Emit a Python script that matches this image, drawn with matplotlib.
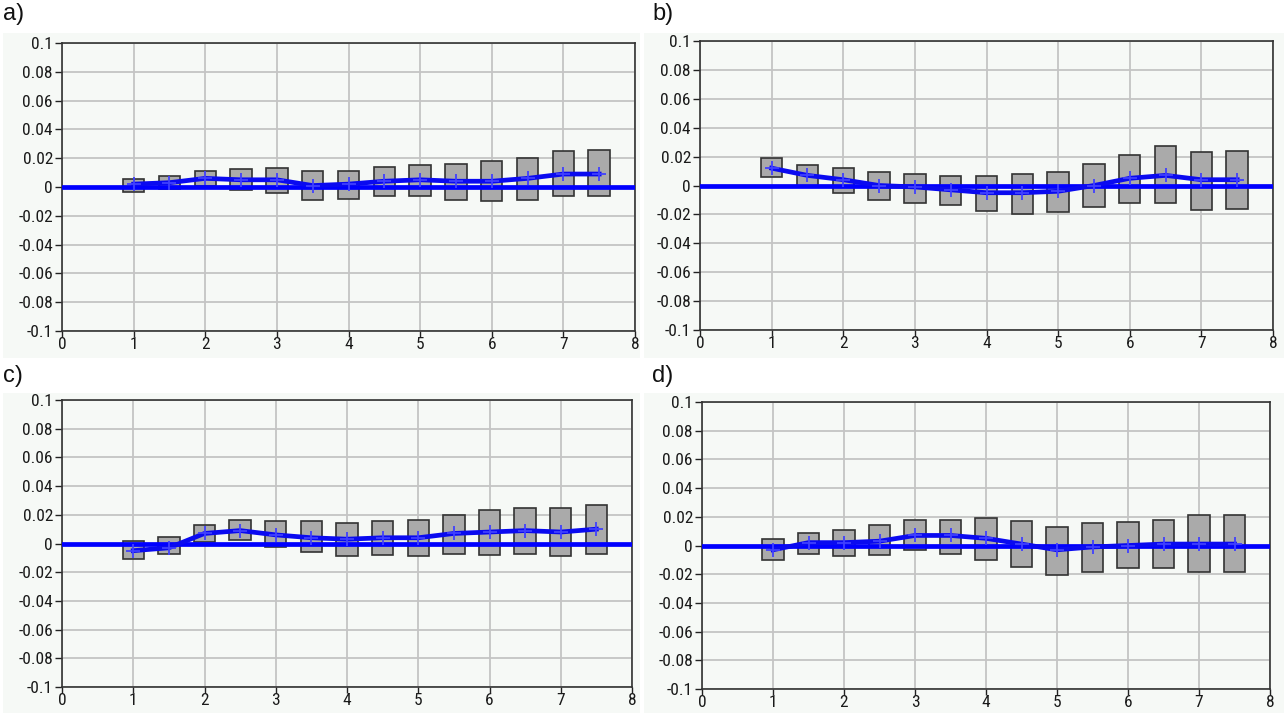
import matplotlib.pyplot as plt
from matplotlib.patches import Rectangle
from matplotlib.ticker import FixedLocator, FixedFormatter
from matplotlib import font_manager

# Lag positions shared by all four panels
lags = [1, 1.5, 2, 2.5, 3, 3.5, 4, 4.5, 5, 5.5, 6, 6.5, 7, 7.5]

# Panel a)
a_upper = [0.0054, 0.0075, 0.0113, 0.0122, 0.0132, 0.011, 0.011, 0.014, 0.015, 0.016, 0.018, 0.020, 0.0247, 0.0254]
a_lower = [-0.0033, -0.0012, 0.0007, -0.0024, -0.0042, -0.009, -0.008, -0.006, -0.006, -0.009, -0.010, -0.009, -0.006, -0.006]
a_mean = [0.002, 0.003, 0.006, 0.005, 0.005, 0.001, 0.002, 0.004, 0.005, 0.004, 0.004, 0.006, 0.009, 0.009]

# Panel b)
b_upper = [0.019, 0.014, 0.012, 0.009, 0.008, 0.0064, 0.0064, 0.008, 0.009, 0.015, 0.021, 0.027, 0.023, 0.024]
b_lower = [0.0056, 0.0, -0.005, -0.010, -0.012, -0.0136, -0.0176, -0.0195, -0.0186, -0.0146, -0.012, -0.012, -0.0167, -0.016]
b_mean = [0.012, 0.007, 0.004, 0.0, -0.001, -0.003, -0.005, -0.005, -0.004, 0.0, 0.005, 0.007, 0.004, 0.004]

# Panel c)
c_upper = [0.0016, 0.0044, 0.013, 0.0165, 0.0156, 0.0156, 0.014, 0.0156, 0.0165, 0.020, 0.023, 0.025, 0.025, 0.027]
c_lower = [-0.011, -0.007, 0.001, 0.0023, -0.0023, -0.006, -0.009, -0.008, -0.009, -0.007, -0.008, -0.007, -0.009, -0.007]
c_mean = [-0.005, -0.003, 0.007, 0.009, 0.006, 0.004, 0.003, 0.004, 0.004, 0.007, 0.008, 0.009, 0.008, 0.010]

# Panel d)
d_upper = [0.0045, 0.009, 0.011, 0.014, 0.018, 0.018, 0.019, 0.017, 0.013, 0.0155, 0.0164, 0.018, 0.021, 0.021]
d_lower = [-0.0103, -0.0056, -0.0076, -0.0067, -0.003, -0.0056, -0.0103, -0.015, -0.0207, -0.0187, -0.016, -0.016, -0.0187, -0.0187]
d_mean = [-0.003, 0.002, 0.002, 0.003, 0.007, 0.007, 0.005, 0.001, -0.003, -0.001, 0.0, 0.001, 0.001, 0.001]

panel_labels = ["a)", "b)", "c)", "d)"]
y_ticks = [0.1, 0.08, 0.06, 0.04, 0.02, 0, -0.02, -0.04, -0.06, -0.08, -0.1]
y_tick_labels = ["0.1", "0.08", "0.06", "0.04", "0.02", "0", "-0.02", "-0.04", "-0.06", "-0.08", "-0.1"]
x_ticks = [0, 1, 2, 3, 4, 5, 6, 7, 8]

W, H = 1284, 714
fig = plt.figure(figsize=(W / 100, H / 100), dpi=100)
fig.patch.set_facecolor("white")

bg = "#f6f9f6"

# narrow face for the tick numbers, if one is around
installed = {f.name for f in font_manager.fontManager.ttflist}
narrow = [n for n in ["Liberation Sans Narrow", "Roboto Condensed", "Open Sans Condensed"] if n in installed]
tick_fp = font_manager.FontProperties(family=narrow + ["DejaVu Sans"], stretch="condensed", size=12.5)

# (left, top, right, bottom) of each plot area in pixels
boxes_px = [(62, 43, 635, 331), (700, 41, 1273, 330), (62, 400, 632, 687), (702, 402, 1270, 689)]
# light backdrop behind each panel
bg_px = [(3, 33, 640, 358), (644, 33, 1284, 358), (3, 393, 640, 713), (644, 393, 1284, 713)]
label_px = [(3, 3), (652, 3), (3, 365), (652, 365)]

series = [(a_upper, a_lower, a_mean), (b_upper, b_lower, b_mean),
          (c_upper, c_lower, c_mean), (d_upper, d_lower, d_mean)]

for i, (upper, lower, mean) in enumerate(series):
    x0, y0, x1, y1 = bg_px[i]
    fig.patches.append(Rectangle((x0 / W, 1 - y1 / H), (x1 - x0) / W, (y1 - y0) / H,
                                 transform=fig.transFigure, facecolor=bg, edgecolor="none", zorder=-10))

    l, t, r, b = boxes_px[i]
    ax = fig.add_axes([l / W, 1 - b / H, (r - l) / W, (b - t) / H])
    ax.set_facecolor(bg)
    ax.set_xlim(0, 8)
    ax.set_ylim(-0.1, 0.1)

    ax.xaxis.set_major_locator(FixedLocator(x_ticks))
    ax.yaxis.set_major_locator(FixedLocator(y_ticks))
    ax.yaxis.set_major_formatter(FixedFormatter(y_tick_labels))
    ax.grid(True, color="#c4c4c4", linewidth=1.3)
    ax.set_axisbelow(True)
    ax.tick_params(direction="out", length=5, width=1, color="#222222",
                   labelcolor="#1a1a1a", pad=1.5)
    ax.tick_params(axis="x", length=4, pad=0.5)
    for lab in ax.get_xticklabels() + ax.get_yticklabels():
        lab.set_fontproperties(tick_fp)
    for s in ax.spines.values():
        s.set_color("#333333")
        s.set_linewidth(1.2)

    # interval boxes
    heights = [u - lo for u, lo in zip(upper, lower)]
    ax.bar(lags, heights, bottom=lower, width=0.3, color="#aaaaaa",
           edgecolor="#333333", linewidth=1.2, zorder=2)

    # zero reference and mean response
    ax.axhline(0, color="#0000ff", linewidth=3.4, zorder=3)
    ax.plot(lags, mean, color="#0a0af0", linewidth=3.4, marker="+", markersize=10,
            markeredgewidth=1.3, markeredgecolor="#4040ff", zorder=4)

    lx, ly = label_px[i]
    fig.text(lx / W, 1 - ly / H, panel_labels[i], fontsize=17, family="Liberation Sans",
             va="top", ha="left", color="#111111")

fig.savefig("out.png", dpi=100)
